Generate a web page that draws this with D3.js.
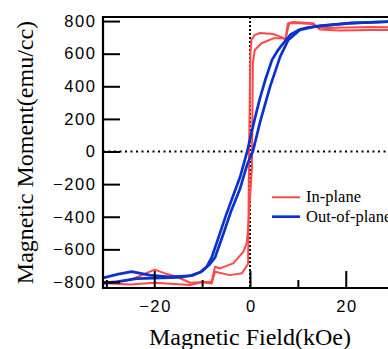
<!DOCTYPE html>
<html>
<head>
<meta charset="utf-8">
<title>Hysteresis</title>
<script src="https://d3js.org/d3.v7.min.js"></script>
<style>
  body { margin: 0; overflow: hidden; background: #fff; }
</style>
</head>
<body>
<div id="chart"></div>
<script>
// [field kOe, moment emu/cc]
const redDesc = [[30.6, 762], [25, 764], [20, 760], [16, 758], [14.6, 760], [13.2, 780], [10, 788], [8.2, 786],
  [7.4, 690], [6, 708], [4.8, 721], [2.1, 727], [1.0, 715], [0.3, 685], [0.1, 600], [-0.2, 0], [-0.35, -560],
  [-0.4, -690], [-1.7, -747], [-4.2, -758], [-7.3, -737], [-8.0, -809], [-10.1, -802], [-12.5, -819],
  [-19.9, -805], [-25, -815], [-30.7, -808]];
const redAsc = [[-30.7, -800], [-27, -797], [-24.5, -782], [-19.9, -724], [-17.5, -750], [-15.3, -768],
  [-12.5, -805], [-9.5, -800], [-8.0, -798], [-7.3, -707], [-6.3, -717], [-3.5, -686], [-1.4, -615],
  [-0.7, -563], [-0.4, -480], [0.4, -100], [0.6, 540], [1.0, 623], [2.4, 664], [4.9, 694], [7.0, 694],
  [7.4, 684], [7.9, 786], [9, 794], [13.2, 786], [14.6, 748], [18.8, 742], [25, 745], [30.6, 745]];
const blueDesc = [[30.6, 798], [25, 792], [20.9, 787], [15, 772], [12, 760], [10.4, 748], [8.5, 718], [7, 665],
  [5.8, 620], [4.6, 562], [3.2, 440], [2.0, 318], [1.0, 200], [-0.6, 0], [-2.0, -150], [-3.5, -270],
  [-5.0, -390], [-6.5, -520], [-8.0, -650], [-9.0, -705], [-10.4, -740], [-12.5, -762], [-17, -768],
  [-21, -758], [-24.7, -737], [-27.5, -752], [-30.7, -775]];
const blueAsc = [[-30.7, -808], [-27.9, -799], [-23.7, -780], [-20, -776], [-15, -772], [-12, -760],
  [-10, -735], [-8.5, -695], [-7.3, -650], [-5.5, -500], [-4.0, -370], [-2.1, -230], [-0.6, -80], [0.6, 0],
  [2.1, 180], [4.2, 398], [6.3, 582], [8.0, 684], [10.4, 745], [13.9, 768], [20.9, 788], [28.6, 796],
  [30.6, 800]];

const yTicks = [-800, -600, -400, -200, 0, 200, 400, 600, 800];
const xMajor = [-20, 0, 20];
const xMinor = [-30, -10, 10, 30];
const legendNames = ["In-plane", "Out-of-plane"];

const red = "#ff4848", blue = "#0a32cc";

const W = 400, H = 349;
const pL = 103, pR = 396.5, pT = 17, pB = 288;

const svg = d3.select("#chart").append("svg")
  .attr("width", W).attr("height", H);

const x = d3.scaleLinear().domain([-30.7, 30.6]).range([pL, pR]);
const y = d3.scaleLinear().domain([-837, 825]).range([pB, pT]);

svg.append("clipPath").attr("id", "plot")
  .append("rect").attr("x", pL).attr("y", pT)
  .attr("width", pR - pL).attr("height", pB - pT);

// dotted zero lines
svg.append("line")
  .attr("x1", x(0)).attr("x2", x(0)).attr("y1", pT).attr("y2", pB)
  .attr("stroke", "#000").attr("stroke-width", 2).attr("stroke-dasharray", "2,2");
svg.append("line")
  .attr("x1", pL).attr("x2", W).attr("y1", y(0)).attr("y2", y(0))
  .attr("stroke", "#000").attr("stroke-width", 2).attr("stroke-dasharray", "2,3.5");

// curves
const line = d3.line().x(d => x(d[0])).y(d => y(d[1]));
const g = svg.append("g").attr("clip-path", "url(#plot)");
[[redDesc, red, 2], [redAsc, red, 2], [blueDesc, blue, 2.7], [blueAsc, blue, 2.7]].forEach(s => {
  g.append("path").datum(s[0])
    .attr("d", line)
    .attr("fill", "none")
    .attr("stroke", s[1])
    .attr("stroke-width", s[2])
    .attr("stroke-linejoin", "round");
});

// axes
const yAxis = d3.axisLeft(y).tickValues(yTicks).tickSize(-17).tickPadding(8);
const ya = svg.append("g").attr("transform", "translate(" + pL + ",0)").call(yAxis);

const xAxis = d3.axisBottom(x).tickValues(xMajor).tickSize(-17).tickPadding(12);
const xa = svg.append("g").attr("transform", "translate(0," + pB + ")").call(xAxis);
const xAxisMinor = d3.axisBottom(x).tickValues(xMinor).tickSize(-8).tickFormat("");
const xm = svg.append("g").attr("transform", "translate(0," + pB + ")").call(xAxisMinor);

[ya, xa, xm].forEach(a => {
  a.select(".domain").remove();
  a.selectAll(".tick line").attr("stroke", "#000").attr("stroke-width", 2);
  a.selectAll("text")
    .attr("fill", "#000")
    .attr("font-family", "Liberation Sans, Arial, sans-serif")
    .attr("font-size", "16.5px")
    .attr("letter-spacing", "1.6px");
});
ya.selectAll("text").attr("dx", "1.6px");
xa.selectAll("text").attr("dx", "0.8px");

// frame
svg.append("path")
  .attr("d", "M" + W + "," + pT + "H" + pL + "V" + pB + "H" + W)
  .attr("fill", "none").attr("stroke", "#000").attr("stroke-width", 2.2);

// axis titles
svg.append("text")
  .attr("x", x(0)).attr("y", 345)
  .attr("text-anchor", "middle")
  .attr("font-family", "Liberation Serif, Times New Roman, serif")
  .attr("font-size", "24px")
  .text("Magnetic Field(kOe)");

svg.append("text")
  .attr("transform", "translate(33,152.5) rotate(-90)")
  .attr("text-anchor", "middle")
  .attr("font-family", "Liberation Serif, Times New Roman, serif")
  .attr("font-size", "24px")
  .text("Magnetic Moment(emu/cc)");

// legend
const legend = svg.append("g");
[red, blue].forEach((c, i) => {
  const ly = 197.3 + i * 19.4;
  legend.append("line")
    .attr("x1", 272).attr("x2", 300).attr("y1", ly).attr("y2", ly)
    .attr("stroke", c).attr("stroke-width", i ? 2.7 : 2);
  legend.append("text")
    .attr("x", 306).attr("y", ly + 5)
    .attr("font-family", "Liberation Serif, Times New Roman, serif")
    .attr("font-size", "16.5px")
    .text(legendNames[i]);
});
</script>
</body>
</html>
